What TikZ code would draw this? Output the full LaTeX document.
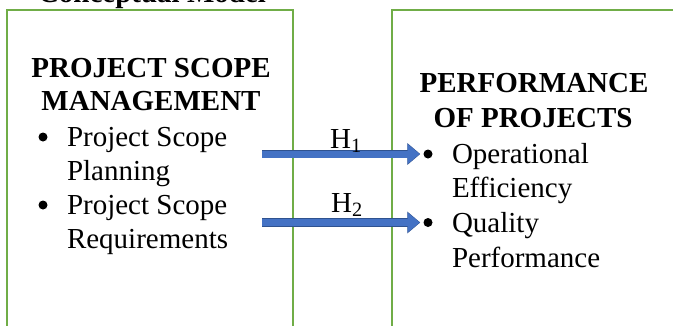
\documentclass[tikz,border=0pt]{standalone}
\usepackage{fontspec}
\setmainfont{Liberation Serif}
\usetikzlibrary{arrows.meta}
\definecolor{boxgreen}{HTML}{70AD47}
\definecolor{arrfill}{HTML}{4472C4}
\definecolor{arredge}{HTML}{2F528F}
\begin{document}
\begin{tikzpicture}[x=1pt,y=-1pt,
  frame/.style={draw=boxgreen, line width=2.6pt, anchor=north west, outer sep=0pt, inner sep=0pt},
  txt/.style={font=\fontsize{29}{33}\selectfont, inner sep=0pt, outer sep=0pt},
  hd/.style={font=\fontsize{29}{33}\selectfont\bfseries, inner sep=0pt, outer sep=0pt},
  dot/.style={circle, fill=black, inner sep=0pt, outer sep=0pt, minimum size=9pt},
  hyp/.style={draw=arrfill, line width=7pt, shorten >=3.8pt,
    -{Triangle[length=12pt, width=19pt, fill=arrfill]},
    preaction={draw=arredge, line width=8.6pt, shorten >=3.2pt,
      -{Triangle[length=13pt, width=21pt, fill=arredge]}}}
]
\useasboundingbox (0,0) rectangle (673,325);
\clip (0,0) rectangle (673,325);
% title (cut off at top, as in the reference)
\node[hd, anchor=base west] (title) at (38,2) {Conceptual Model};
% boxes
\node[frame, minimum width=286pt, minimum height=340pt] (lbox) at (7,10) {};
\node[frame, minimum width=300pt, minimum height=340pt] (rbox) at (392,10) {};
% left box content
\node[hd, anchor=base] (lh1) at (151,77) {PROJECT SCOPE};
\node[hd, anchor=base] (lh2) at (151,110) {MANAGEMENT};
\node[dot] (lb1) at (43,137) {};
\node[txt, anchor=base west] (lt1) at (67,146) {Project Scope};
\node[txt, anchor=base west] (lt2) at (67,180) {Planning};
\node[dot] (lb2) at (43,205) {};
\node[txt, anchor=base west] (lt3) at (67,214) {Project Scope};
\node[txt, anchor=base west] (lt4) at (67,248) {Requirements};
% right box content
\node[hd, anchor=base] (rh1) at (534,92) {PERFORMANCE};
\node[hd, anchor=base] (rh2) at (533,127) {OF PROJECTS};
\node[dot] (rb1) at (428,154) {};
\node[txt, anchor=base west] (rt1) at (452,163) {Operational};
\node[txt, anchor=base west] (rt2) at (452,197) {Efficiency};
\node[dot] (rb2) at (428,222.5) {};
\node[txt, anchor=base west] (rt3) at (452,232) {Quality};
\node[txt, anchor=base west] (rt4) at (452,267) {Performance};
% hypotheses
\coordinate (h1s) at (262,154);
\coordinate (h2s) at (262,222.5);
\draw[hyp] (h1s) -- (rb1.west);
\draw[hyp] (h2s) -- (rb2.west);
\node[txt, anchor=base] (h1) at (346,148) {H\textsubscript{1}};
\node[txt, anchor=base] (h2) at (347,212) {H\textsubscript{2}};
\end{tikzpicture}
\end{document}
